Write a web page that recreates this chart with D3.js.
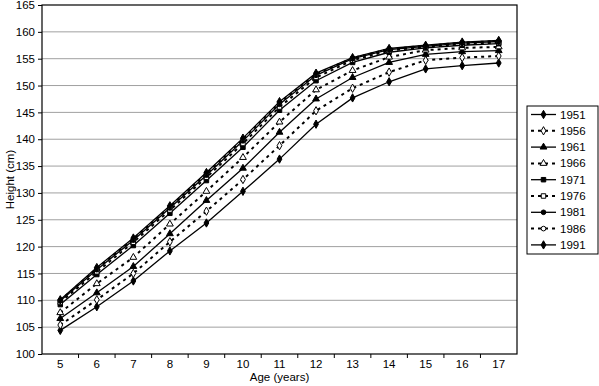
<!DOCTYPE html>
<html>
<head>
<meta charset="utf-8">
<script src="https://cdn.jsdelivr.net/npm/d3@7"></script>
<style>
  body { margin: 0; background: #fff; }
  svg { font-family: "Liberation Sans", Arial, sans-serif; }
</style>
</head>
<body>
<svg width="599" height="386"></svg>
<script>
// Ages (x categories)
const ages = [5, 6, 7, 8, 9, 10, 11, 12, 13, 14, 15, 16, 17];
const yTicks = [100, 105, 110, 115, 120, 125, 130, 135, 140, 145, 150, 155, 160, 165];

// Mean height (cm) per survey year
const h1951 = [104.4, 108.8, 113.6, 119.2, 124.4, 130.3, 136.3, 142.8, 147.7, 150.7, 153.1, 153.7, 154.2];
const h1956 = [105.4, 110.1, 115.0, 120.9, 126.6, 132.5, 138.8, 145.3, 149.5, 152.5, 154.7, 155.2, 155.5];
const h1961 = [106.6, 111.4, 116.3, 122.4, 128.6, 134.6, 141.3, 147.5, 151.5, 154.3, 155.8, 156.3, 156.5];
const h1966 = [107.7, 113.1, 118.0, 124.2, 130.3, 136.6, 143.2, 149.2, 152.8, 155.3, 156.6, 157.0, 157.2];
const h1971 = [109.2, 114.8, 120.2, 126.2, 132.3, 138.5, 145.4, 150.9, 154.3, 156.2, 157.0, 157.5, 157.8];
const h1976 = [109.6, 115.3, 120.8, 126.8, 132.9, 139.2, 146.0, 151.5, 154.7, 156.5, 157.2, 157.7, 158.0];
const h1981 = [109.9, 115.7, 121.2, 127.2, 133.3, 139.7, 146.5, 151.9, 155.0, 156.7, 157.3, 157.9, 158.2];
const h1986 = [110.0, 115.9, 121.4, 127.4, 133.6, 140.0, 146.8, 152.1, 155.1, 156.8, 157.4, 158.0, 158.3];
const h1991 = [110.1, 116.1, 121.6, 127.6, 133.8, 140.2, 147.0, 152.3, 155.2, 156.9, 157.5, 158.1, 158.4];

const years = ["1951", "1956", "1961", "1966", "1971", "1976", "1981", "1986", "1991"];
const values = [h1951, h1956, h1961, h1966, h1971, h1976, h1981, h1986, h1991];

// marker shape, filled or not, dashed line or not
const styles = [
  { shape: d3.symbolDiamond, fill: true,  dash: false },
  { shape: d3.symbolDiamond, fill: false, dash: true },
  { shape: d3.symbolTriangle, fill: true,  dash: false },
  { shape: d3.symbolTriangle, fill: false, dash: true },
  { shape: d3.symbolSquare, fill: true,  dash: false },
  { shape: d3.symbolSquare, fill: false, dash: true },
  { shape: d3.symbolCircle, fill: true,  dash: false },
  { shape: d3.symbolCircle, fill: false, dash: true },
  { shape: d3.symbolDiamond, fill: true,  dash: false }
];
const markSize = st => st.shape === d3.symbolCircle ? 17 : 20;

const svg = d3.select("svg");
const plotL = 42, plotR = 517, plotT = 5, plotB = 354;

const x = d3.scaleBand().domain(ages).range([plotL, plotR]);
const y = d3.scaleLinear().domain([100, 165]).range([plotB, plotT]);

// grid
svg.append("g")
  .selectAll("line")
  .data(yTicks.slice(1, -1))
  .enter()
  .append("line")
  .attr("x1", plotL).attr("x2", plotR)
  .attr("y1", d => y(d)).attr("y2", d => y(d))
  .attr("stroke", "#a0a0a0")
  .attr("stroke-width", 1);

// frame
svg.append("rect")
  .attr("x", plotL).attr("y", plotT)
  .attr("width", plotR - plotL).attr("height", plotB - plotT)
  .attr("fill", "none")
  .attr("stroke", "#000")
  .attr("stroke-width", 1.2);

// y axis
const yAxis = svg.append("g")
  .attr("transform", `translate(${plotL},0)`)
  .call(d3.axisLeft(y).tickValues(yTicks).tickSize(4).tickPadding(3));
yAxis.select(".domain").remove();
yAxis.selectAll("text").attr("font-size", 11.5).attr("fill", "#000").style("font-family", "inherit");

// x axis: ticks sit on the band edges
const xAxis = svg.append("g")
  .attr("transform", `translate(0,${plotB})`)
  .call(d3.axisBottom(x).tickSize(0).tickPadding(6));
xAxis.select(".domain").remove();
xAxis.selectAll("text").attr("font-size", 11.5).attr("fill", "#000").style("font-family", "inherit");
svg.append("g")
  .selectAll("line")
  .data(ages.slice(1))
  .enter()
  .append("line")
  .attr("x1", d => x(d)).attr("x2", d => x(d))
  .attr("y1", plotB).attr("y2", plotB + 4)
  .attr("stroke", "#000");

// axis titles
svg.append("text")
  .attr("x", (plotL + plotR) / 2)
  .attr("y", 381)
  .attr("text-anchor", "middle")
  .attr("font-size", 11.5)
  .text("Age (years)");

svg.append("text")
  .attr("transform", `translate(14,${(plotT + plotB) / 2}) rotate(-90)`)
  .attr("text-anchor", "middle")
  .attr("font-size", 11.5)
  .text("Height (cm)");

// lines
const line = d3.line()
  .x((d, i) => x(ages[i]) + x.bandwidth() / 2)
  .y(d => y(d));

const series = svg.append("g")
  .selectAll("g")
  .data(values)
  .enter()
  .append("g");

series.append("path")
  .attr("d", d => line(d))
  .attr("fill", "none")
  .attr("stroke", "#000")
  .attr("stroke-width", (d, i) => styles[i].dash ? 2 : 1.3)
  .attr("stroke-dasharray", (d, i) => styles[i].dash ? "3,4" : null);

series.each(function(vals, i) {
  const st = styles[i];
  d3.select(this).selectAll("path.mark")
    .data(vals)
    .enter()
    .append("path")
    .attr("class", "mark")
    .attr("transform", (d, j) => `translate(${x(ages[j]) + x.bandwidth() / 2},${y(d)})`)
    .attr("d", d3.symbol().type(st.shape).size(markSize(st)))
    .attr("fill", st.fill ? "#000" : "#fff")
    .attr("stroke", "#000")
    .attr("stroke-width", 1);
});

// legend
const lg = svg.append("g");
lg.append("rect")
  .attr("x", 527).attr("y", 106)
  .attr("width", 71).attr("height", 148)
  .attr("fill", "#fff")
  .attr("stroke", "#000")
  .attr("stroke-width", 1);

const item = lg.selectAll("g.item")
  .data(years)
  .enter()
  .append("g")
  .attr("class", "item")
  .attr("transform", (d, i) => `translate(531,${114.5 + i * 16.3})`);

item.append("line")
  .attr("x1", 0).attr("x2", 25)
  .attr("stroke", "#000")
  .attr("stroke-width", (d, i) => styles[i].dash ? 2 : 1.3)
  .attr("stroke-dasharray", (d, i) => styles[i].dash ? "3,4" : null);

item.append("path")
  .attr("transform", "translate(12.5,0)")
  .attr("d", (d, i) => d3.symbol().type(styles[i].shape).size(markSize(styles[i]))())
  .attr("fill", (d, i) => styles[i].fill ? "#000" : "#fff")
  .attr("stroke", "#000");

item.append("text")
  .attr("x", 29)
  .attr("dy", "0.35em")
  .attr("font-size", 11.5)
  .text(d => d);
</script>
</body>
</html>
